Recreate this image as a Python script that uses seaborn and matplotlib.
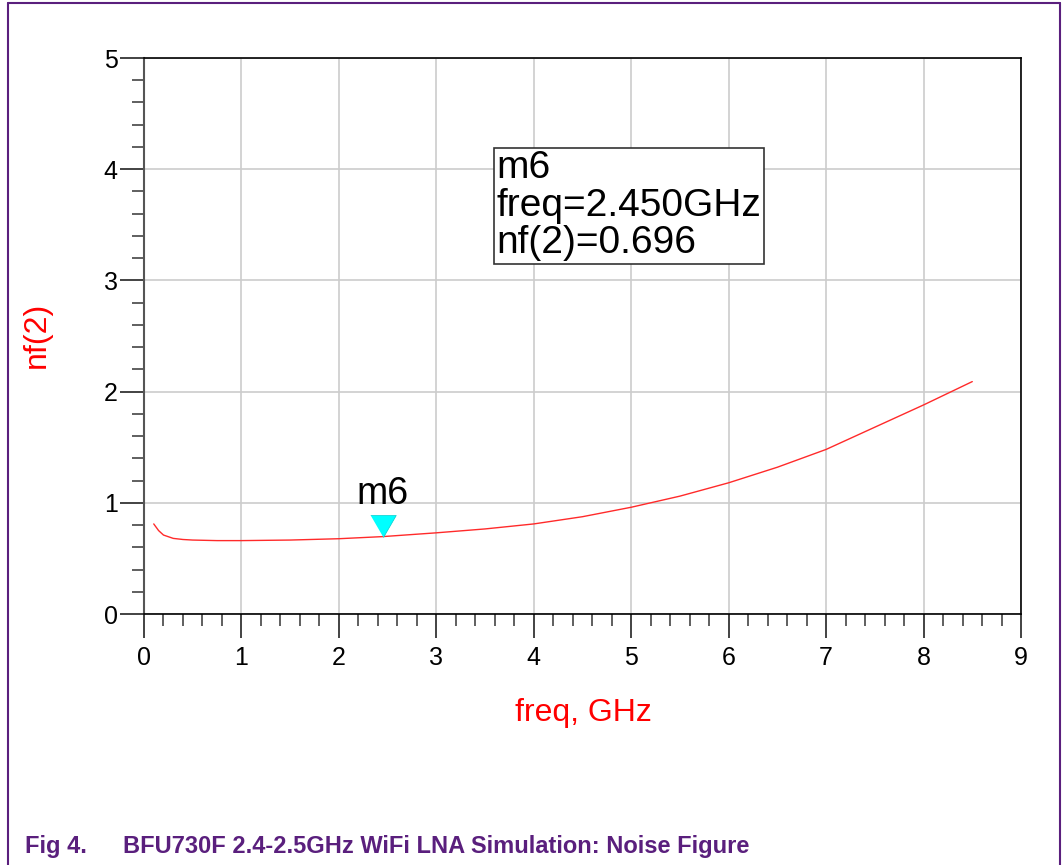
import matplotlib
matplotlib.use("Agg")
import matplotlib.pyplot as plt
import seaborn as sns
import pandas as pd
from matplotlib.lines import Line2D
from matplotlib.ticker import MultipleLocator

# ---- data ----
freq_ghz = [0.1, 0.15, 0.2, 0.3, 0.4, 0.5, 0.75, 1.0, 1.5, 2.0, 2.45, 3.0, 3.5,
            4.0, 4.5, 5.0, 5.5, 6.0, 6.5, 7.0, 7.5, 8.0, 8.5]
nf_db = [0.81, 0.75, 0.71, 0.68, 0.67, 0.665, 0.66, 0.66, 0.665, 0.677, 0.696,
         0.73, 0.765, 0.81, 0.875, 0.96, 1.06, 1.18, 1.32, 1.48, 1.68, 1.88, 2.09]
marker_name = "m6"
marker_freq = 2.45
marker_nf = 0.696
x_ticks = [0, 1, 2, 3, 4, 5, 6, 7, 8, 9]
y_ticks = [0, 1, 2, 3, 4, 5]
caption_fig = "Fig 4."
caption_text = "BFU730F 2.4-2.5GHz WiFi LNA Simulation: Noise Figure"

df = pd.DataFrame({"freq": freq_ghz, "nf": nf_db})

sns.set_style("white")
plt.rcParams["font.family"] = ["Liberation Sans", "DejaVu Sans"]

fig = plt.figure(figsize=(10.63, 8.65), dpi=100)
ax = fig.add_axes([144 / 1063, 1 - 614 / 865, (1021 - 144) / 1063, (614 - 58) / 865])

sns.lineplot(data=df, x="freq", y="nf", ax=ax, color="#ff2a2a", linewidth=1.0)

ax.set_xlim(0, 9)
ax.set_ylim(0, 5)
ax.set_xticks(x_ticks)
ax.set_yticks(y_ticks)
ax.set_xticklabels([str(v) for v in x_ticks])
ax.set_yticklabels([str(v) for v in y_ticks])
ax.xaxis.set_minor_locator(MultipleLocator(0.2))
ax.yaxis.set_minor_locator(MultipleLocator(0.2))
ax.grid(True, which="major", color="#cccccc", linewidth=1.2)
ax.set_axisbelow(True)

ax.tick_params(axis="both", which="both", bottom=True, left=True, top=False, right=False)
ax.tick_params(axis="both", which="major", direction="out", length=17, width=1.2,
               color="#222222", labelsize=18, labelcolor="black")
ax.tick_params(axis="x", which="major", pad=6)
ax.tick_params(axis="y", which="major", pad=2)
ax.tick_params(axis="x", which="minor", direction="out", length=8.5, width=1.2,
               color="#444444")
ax.tick_params(axis="y", which="minor", direction="out", length=8.5, width=1.2,
               color="#444444")

for side in ["top", "right", "bottom"]:
    ax.spines[side].set_color("black")
    ax.spines[side].set_linewidth(1.2)
ax.spines["left"].set_color("#555555")
ax.spines["left"].set_linewidth(1.5)

ax.set_xlabel("freq, GHz", color="red", fontsize=23)
ax.set_ylabel("nf(2)", color="red", fontsize=23)
ax.xaxis.set_label_coords((583 - 144) / 877, (614 - 698) / 556)
ax.yaxis.set_label_coords((52 - 144) / 877, (614 - 335) / 556)

# marker
tri = [(-0.58, 1.0), (0.58, 1.0), (0.0, 0.0)]
ax.scatter([marker_freq], [marker_nf], marker=tri, s=1000, color="#00ffff",
           edgecolors="#00cccc", linewidths=0.5, zorder=5)
ax.annotate(marker_name, xy=(marker_freq, marker_nf), xytext=(0, 18),
            textcoords="offset points", ha="center", va="bottom",
            fontsize=27, color="black", zorder=6)

ax.text(3.62, 3.67,
        f"{marker_name}\nfreq={marker_freq:.3f}GHz\nnf(2)={marker_nf:.3f}",
        fontsize=28, va="center", ha="left", linespacing=1.05, color="black",
        bbox=dict(boxstyle="square,pad=0.06", facecolor="white",
                  edgecolor="#333333", linewidth=1.2), zorder=6)

# purple frame and caption
purple = "#5a1f7d"
fig.add_artist(Line2D([8 / 1063, 8 / 1063], [0, 1 - 3 / 865], color=purple, lw=1.5,
                      transform=fig.transFigure))
fig.add_artist(Line2D([8 / 1063, 1060 / 1063], [1 - 3 / 865, 1 - 3 / 865], color=purple,
                      lw=1.5, transform=fig.transFigure))
fig.add_artist(Line2D([1060 / 1063, 1060 / 1063], [0, 1 - 3 / 865], color=purple, lw=1.5,
                      transform=fig.transFigure))
fig.text(25 / 1063, 1 - 846 / 865, caption_fig, color=purple, fontsize=17,
         fontweight="bold", va="center", ha="left")
fig.text(123 / 1063, 1 - 846 / 865, caption_text, color=purple, fontsize=17,
         fontweight="bold", va="center", ha="left")

fig.savefig("out.png", dpi=100, facecolor="white")
